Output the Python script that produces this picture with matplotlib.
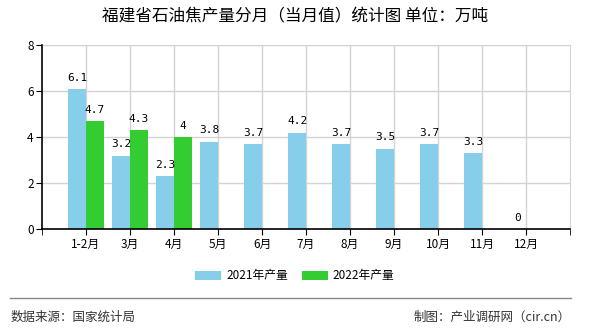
import matplotlib.pyplot as plt
import numpy as np

plt.rcParams["font.family"] = ["Noto Sans CJK SC", "DejaVu Sans"]

months = ["1-2月", "3月", "4月", "5月", "6月", "7月", "8月", "9月", "10月", "11月", "12月"]
output_2021 = [6.1, 3.2, 2.3, 3.8, 3.7, 4.2, 3.7, 3.5, 3.7, 3.3, 0]
output_2022 = [4.7, 4.3, 4.0]
y_ticks = [0, 2, 4, 6, 8]

fig = plt.figure(figsize=(5.9, 3.3), dpi=100)
ax = fig.add_axes([42 / 590, 1 - 229.3 / 330, 528 / 590, 184 / 330])

x = np.arange(len(months))
width = 0.4

ax.bar(x - width / 2, output_2021, width=width, color="#87CEEB", label="2021年产量", zorder=2)
ax.bar(x[:len(output_2022)] + width / 2, output_2022, width=width, color="#33CC33", label="2022年产量", zorder=2)

# value labels
for xi, v in zip(x, output_2021):
    ax.text(xi - width / 2, v + 0.28, f"{v:g}", ha="center", va="bottom",
            fontsize=8, family="DejaVu Sans Mono")
for xi, v in zip(x, output_2022):
    ax.text(xi + width / 2, v + 0.28, f"{v:g}", ha="center", va="bottom",
            fontsize=8, family="DejaVu Sans Mono")

ax.set_xlim(-1, 11)
ax.set_ylim(0, 8)
ax.set_xticks(x)
ax.set_xticklabels(months, fontsize=8.5)
ax.set_xticks([-1, 11], minor=True)
ax.set_yticks(y_ticks)
ax.set_yticklabels([str(t) for t in y_ticks], fontsize=8.5)
ax.tick_params(axis="both", which="both", direction="out", length=4, color="black", pad=2)

ax.grid(True, color="#D3D3D3", linewidth=1, zorder=0)
ax.set_axisbelow(True)
for side in ["top", "right"]:
    ax.spines[side].set_color("#D3D3D3")
for side in ["left", "bottom"]:
    ax.spines[side].set_color("black")
    ax.spines[side].set_linewidth(1.2)
    ax.spines[side].set_zorder(3)

fig.text(0.5, 1 - 17 / 330, "福建省石油焦产量分月（当月值）统计图 单位：万吨",
         ha="center", va="center", fontsize=12)

fig.legend(loc="center", bbox_to_anchor=(0.5, 1 - 276 / 330), ncol=2, frameon=False,
           fontsize=8.5, handlelength=2.2, handleheight=0.9, columnspacing=1.2,
           handletextpad=0.4)

fig.add_artist(plt.Line2D([10 / 590, 571 / 590], [1 - 298 / 330] * 2, color="#888888", linewidth=1))
fig.text(11 / 590, 1 - 317 / 330, "数据来源：国家统计局", ha="left", va="center", fontsize=9, color="#333333")
fig.text(571 / 590, 1 - 317 / 330, "制图：产业调研网（cir.cn）", ha="right", va="center", fontsize=9, color="#333333")

fig.savefig("out.png", dpi=100)
